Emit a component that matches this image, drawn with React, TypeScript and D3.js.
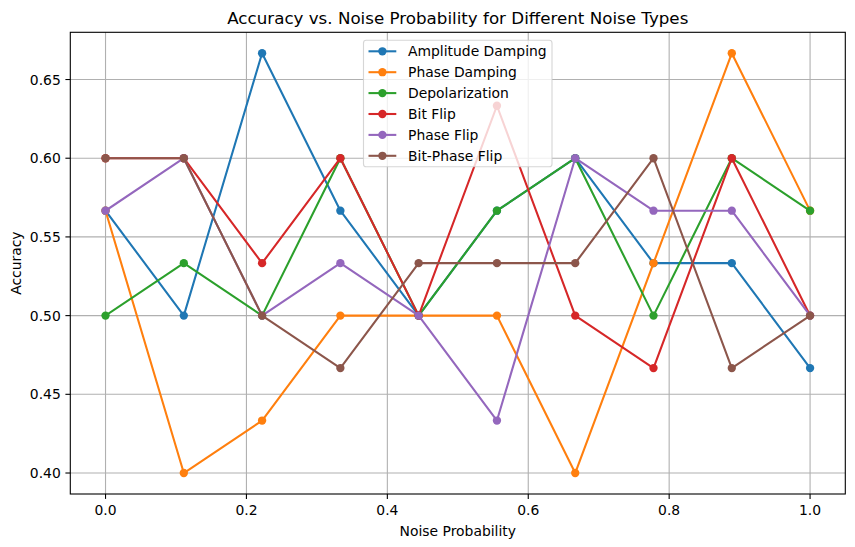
import React from "react";
import * as d3 from "d3";

const noiseProbs = [0, 1 / 9, 2 / 9, 3 / 9, 4 / 9, 5 / 9, 6 / 9, 7 / 9, 8 / 9, 1];
const seriesNames = ["Amplitude Damping", "Phase Damping", "Depolarization", "Bit Flip", "Phase Flip", "Bit-Phase Flip"];
const seriesColors = ["#1f77b4", "#ff7f0e", "#2ca02c", "#d62728", "#9467bd", "#8c564b"];
const amplitudeDamping = [17, 15, 20, 17, 15, 17, 18, 16, 16, 14].map((v) => v / 30);
const phaseDamping = [17, 12, 13, 15, 15, 15, 12, 16, 20, 17].map((v) => v / 30);
const depolarization = [15, 16, 15, 18, 15, 17, 18, 15, 18, 17].map((v) => v / 30);
const bitFlip = [18, 18, 16, 18, 15, 19, 15, 14, 18, 15].map((v) => v / 30);
const phaseFlip = [17, 18, 15, 16, 15, 13, 18, 17, 17, 15].map((v) => v / 30);
const bitPhaseFlip = [18, 18, 15, 14, 16, 16, 16, 18, 14, 15].map((v) => v / 30);
const seriesValues = [amplitudeDamping, phaseDamping, depolarization, bitFlip, phaseFlip, bitPhaseFlip];
const xTicks = [0, 0.2, 0.4, 0.6, 0.8, 1.0];
const yTicks = [0.4, 0.45, 0.5, 0.55, 0.6, 0.65];

const W = 855;
const H = 547;
const L = 70.3, R = 845.3, T = 32.3, B = 494;
const FONT = "DejaVu Sans, sans-serif";

export default function App() {
  const x = d3.scaleLinear().domain([-0.05, 1.05]).range([L, R]);
  const yMin = 0.4 - (20 / 30 - 0.4) * 0.05;
  const yMax = 20 / 30 + (20 / 30 - 0.4) * 0.05;
  const y = d3.scaleLinear().domain([yMin, yMax]).range([B, T]);
  const line = d3.line<number>().x((_, i) => x(noiseProbs[i])).y((d) => y(d));

  const legX = 363.5, legY = 40.3, legW = 188.5, legH = 126.5, rowH = 20.9;

  return (
    <svg width={W} height={H} style={{ position: "absolute", left: 0, top: 0, display: "block" }} fontFamily={FONT}>
      <rect x={0} y={0} width={W} height={H} fill="#fff" />
      <defs>
        <clipPath id="plotclip">
          <rect x={L} y={T} width={R - L} height={B - T} />
        </clipPath>
      </defs>
      {/* grid */}
      {xTicks.map((t) => (
        <line key={"gx" + t} x1={x(t)} x2={x(t)} y1={T} y2={B} stroke="#b0b0b0" strokeWidth={1.1} />
      ))}
      {yTicks.map((t) => (
        <line key={"gy" + t} x1={L} x2={R} y1={y(t)} y2={y(t)} stroke="#b0b0b0" strokeWidth={1.1} />
      ))}
      {/* series */}
      <g clipPath="url(#plotclip)">
        {seriesValues.map((vals, si) => (
          <g key={seriesNames[si]}>
            <path d={line(vals) || ""} fill="none" stroke={seriesColors[si]} strokeWidth={2.08} strokeLinejoin="round" strokeLinecap="square" />
            {vals.map((v, i) => (
              <circle key={i} cx={x(noiseProbs[i])} cy={y(v)} r={4.17} fill={seriesColors[si]} />
            ))}
          </g>
        ))}
      </g>
      {/* spines */}
      <rect x={L} y={T} width={R - L} height={B - T} fill="none" stroke="#000" strokeWidth={1.1} />
      {/* ticks */}
      {xTicks.map((t) => (
        <g key={"tx" + t}>
          <line x1={x(t)} x2={x(t)} y1={B} y2={B + 4.9} stroke="#000" strokeWidth={1.1} />
          <text x={x(t)} y={B + 21} textAnchor="middle" fontSize={13.9} fill="#000">{t.toFixed(1)}</text>
        </g>
      ))}
      {yTicks.map((t) => (
        <g key={"ty" + t}>
          <line x1={L - 4.9} x2={L} y1={y(t)} y2={y(t)} stroke="#000" strokeWidth={1.1} />
          <text x={L - 9.5} y={y(t)} dy="0.36em" textAnchor="end" fontSize={13.9} fill="#000">{t.toFixed(2)}</text>
        </g>
      ))}
      {/* labels */}
      <text x={(L + R) / 2} y={536} textAnchor="middle" fontSize={13.9} fill="#000">Noise Probability</text>
      <text transform={`translate(21,${(T + B) / 2}) rotate(-90)`} textAnchor="middle" fontSize={13.9} fill="#000">Accuracy</text>
      <text x={(L + R) / 2} y={24} textAnchor="middle" fontSize={16.7} fill="#000">Accuracy vs. Noise Probability for Different Noise Types</text>
      {/* legend */}
      <g>
        <rect x={legX} y={legY} width={legW} height={legH} rx={2.8} ry={2.8} fill="#fff" fillOpacity={0.8} stroke="#cccccc" strokeOpacity={0.8} strokeWidth={1.1} />
        {seriesNames.map((name, i) => {
          const cy = legY + 11 + i * rowH;
          return (
            <g key={name}>
              <line x1={368.5} x2={396.3} y1={cy} y2={cy} stroke={seriesColors[i]} strokeWidth={2.08} />
              <circle cx={382.4} cy={cy} r={4.17} fill={seriesColors[i]} />
              <text x={408} y={cy} dy="0.36em" fontSize={13.9} fill="#000">{name}</text>
            </g>
          );
        })}
      </g>
    </svg>
  );
}
